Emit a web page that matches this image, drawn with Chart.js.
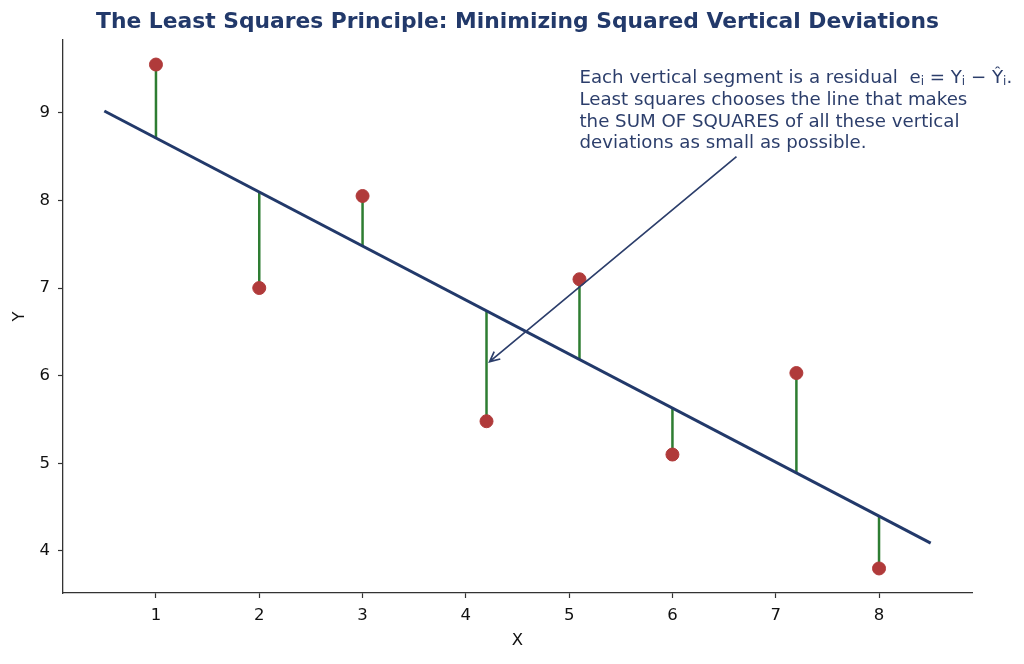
<!DOCTYPE html>
<html>
<head>
<meta charset="utf-8">
<script src="https://cdn.jsdelivr.net/npm/chart.js@4.4.1/dist/chart.umd.min.js"></script>
<style>
  html, body { margin: 0; padding: 0; background: #fff; }
  #wrap { width: 1024px; height: 664px; }
</style>
</head>
<body>
<div id="wrap"><canvas id="chart"></canvas></div>
<script>
// observed points
const xValues = [1, 2, 3, 4.2, 5.1, 6, 7.2, 8]
const yValues = [9.55, 7.0, 8.05, 5.48, 7.1, 5.1, 6.03, 3.8]
// fitted line
const fittedValues = [8.70, 8.09, 7.47, 6.74, 6.18, 5.63, 4.89, 4.40]
const lineX = [0.5, 8.5]
const lineY = [9.02, 4.09]

const xTicks = [1, 2, 3, 4, 5, 6, 7, 8]
const yTicks = [4, 5, 6, 7, 8, 9]

const titleText = "The Least Squares Principle: Minimizing Squared Vertical Deviations"
// first note line in pieces: [text, isSubscript]
const noteFirstLine = [
  ["Each vertical segment is a residual  e", false], ["i", true],
  [" = Y", false], ["i", true],
  [" \u2212 \u0176", false], ["i", true],
  [".", false]
]
const noteLines = [
  "Least squares chooses the line that makes",
  "the SUM OF SQUARES of all these vertical",
  "deviations as small as possible."
]
const noteAnchor = [5.1, 9.39]
const arrowFrom = [6.62, 8.50]
const arrowTo = [4.23, 6.16]

const navy = "#22396a"
const font = "'DejaVu Sans', sans-serif"

const residualData = []
xValues.forEach((x, i) => {
  residualData.push({ x: x, y: yValues[i] })
  residualData.push({ x: x, y: fittedValues[i] })
  residualData.push({ x: x, y: null })
})

const extras = {
  id: "extras",
  afterDatasetsDraw(chart) {
    const ctx = chart.ctx
    const xs = chart.scales.x
    const ys = chart.scales.y
    const area = chart.chartArea

    ctx.save()
    // title
    ctx.fillStyle = navy
    ctx.font = "bold 21.8px " + font
    ctx.textAlign = "center"
    ctx.textBaseline = "middle"
    ctx.fillText(titleText, (area.left + area.right) / 2, 22)

    // note
    ctx.fillStyle = "#2c3e6b"
    ctx.textAlign = "left"
    const nx = xs.getPixelForValue(noteAnchor[0])
    const ny = ys.getPixelForValue(noteAnchor[1])
    let cx = nx
    noteFirstLine.forEach(([t, sub]) => {
      ctx.font = (sub ? "12px " : "18.2px ") + font
      ctx.fillText(t, cx, ny + (sub ? 3.5 : 0))
      cx += ctx.measureText(t).width
    })
    ctx.font = "18.2px " + font
    noteLines.forEach((t, i) => ctx.fillText(t, nx, ny + (i + 1) * 21.7))

    // arrow
    const x1 = xs.getPixelForValue(arrowFrom[0]), y1 = ys.getPixelForValue(arrowFrom[1])
    const x2 = xs.getPixelForValue(arrowTo[0]), y2 = ys.getPixelForValue(arrowTo[1])
    ctx.strokeStyle = "#2c3e6b"
    ctx.lineWidth = 1.7
    ctx.beginPath()
    ctx.moveTo(x1, y1)
    ctx.lineTo(x2, y2)
    const a = Math.atan2(y2 - y1, x2 - x1)
    const h = 11
    ctx.moveTo(x2 - h * Math.cos(a - 0.45), y2 - h * Math.sin(a - 0.45))
    ctx.lineTo(x2, y2)
    ctx.lineTo(x2 - h * Math.cos(a + 0.45), y2 - h * Math.sin(a + 0.45))
    ctx.stroke()
    ctx.restore()
  }
}

new Chart(document.getElementById("chart"), {
  type: "scatter",
  data: {
    datasets: [
      {
        label: "Observed",
        data: xValues.map((x, i) => ({ x: x, y: yValues[i] })),
        backgroundColor: "#b03a3a",
        borderColor: "#b03a3a",
        pointRadius: 6.5,
        order: 0
      },
      {
        label: "Fitted line",
        type: "line",
        data: lineX.map((x, i) => ({ x: x, y: lineY[i] })),
        borderColor: navy,
        borderWidth: 3,
        pointRadius: 0,
        fill: false,
        order: 1
      },
      {
        label: "Residuals",
        type: "line",
        data: residualData,
        borderColor: "#2e7d32",
        borderWidth: 2.5,
        pointRadius: 0,
        spanGaps: false,
        fill: false,
        order: 2
      }
    ]
  },
  options: {
    responsive: true,
    maintainAspectRatio: false,
    animation: false,
    layout: { padding: { left: 0, right: 52, top: 40, bottom: 0 } },
    plugins: {
      legend: { display: false },
      tooltip: { enabled: false }
    },
    scales: {
      x: {
        type: "linear",
        min: 0.1,
        max: 8.9,
        afterBuildTicks: s => { s.ticks = xTicks.map(v => ({ value: v })) },
        afterFit: s => { s.height = 71 },
        grid: { display: true, drawOnChartArea: false, tickLength: 5, tickColor: "#333", tickWidth: 1.2 },
        border: { display: true, color: "#333", width: 1.3 },
        ticks: { color: "#111", font: { family: font, size: 16.5 }, padding: 8 },
        title: { display: true, text: "X", color: "#111", font: { family: font, size: 16.5 }, padding: { top: 2, bottom: 13 } }
      },
      y: {
        type: "linear",
        min: 3.52,
        max: 9.83,
        afterBuildTicks: s => { s.ticks = yTicks.map(v => ({ value: v })) },
        afterFit: s => { s.width = 63 },
        grid: { display: true, drawOnChartArea: false, tickLength: 5, tickColor: "#333", tickWidth: 1.2 },
        border: { display: true, color: "#333", width: 1.3 },
        ticks: { color: "#111", font: { family: font, size: 16.5 }, padding: 8 },
        title: { display: true, text: "Y", color: "#111", font: { family: font, size: 16.5 }, padding: { top: 10, bottom: 4 } }
      }
    }
  },
  plugins: [extras]
})
</script>
</body>
</html>
